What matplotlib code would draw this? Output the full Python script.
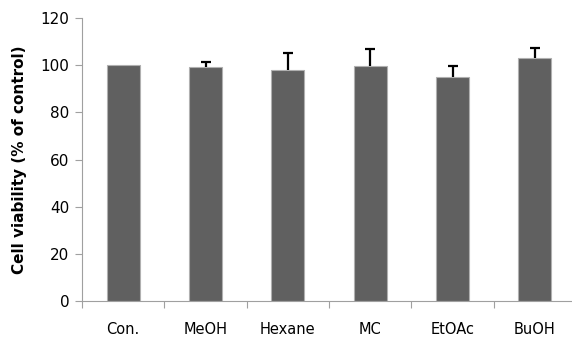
import numpy as np
import matplotlib.pyplot as plt

categories = ["Con.", "MeOH", "Hexane", "MC", "EtOAc", "BuOH"]
viability = [100, 99.2, 97.8, 99.5, 94.9, 102.9]
errors = [0, 2.0, 7.5, 7.5, 4.9, 4.5]

fig = plt.figure(figsize=(5.72, 3.38), dpi=100)
ax = fig.add_axes([82/572, 37/338, 494/572, 283/338])

x = np.arange(len(categories))
ax.bar(x, viability, width=0.4, color="#606060", edgecolor="#b0b0b0", linewidth=0.8, zorder=2)
eb = ax.errorbar(x[1:], viability[1:], yerr=[np.zeros(5), errors[1:]], fmt="none",
                 ecolor="black", elinewidth=1.6, capsize=3.5, capthick=1.6, zorder=3)
# only the upper cap
eb[1][0].set_visible(False)

ax.set_xlim(-0.5, 5.5)
ax.set_ylim(0, 120)
ax.set_yticks(range(0, 121, 20))
ax.set_xticks(np.arange(-0.5, 5.6, 1))
ax.set_xticklabels([])
ax.set_xticks(x, minor=True)
ax.set_xticklabels(categories, minor=True)
ax.tick_params(axis="x", which="minor", length=0, pad=15, labelsize=10.5)
ax.tick_params(axis="x", which="major", length=5, color="#a0a0a0", direction="out")
ax.tick_params(axis="y", length=5, color="#a0a0a0", labelsize=11, pad=4)

for s in ["top", "right"]:
    ax.spines[s].set_visible(False)
ax.spines["left"].set_color("#a0a0a0")
ax.spines["bottom"].set_color("#a0a0a0")

ax.set_ylabel("Cell viability (% of control)", fontsize=11, fontweight="bold", labelpad=10)

plt.savefig("out.png", dpi=100)
